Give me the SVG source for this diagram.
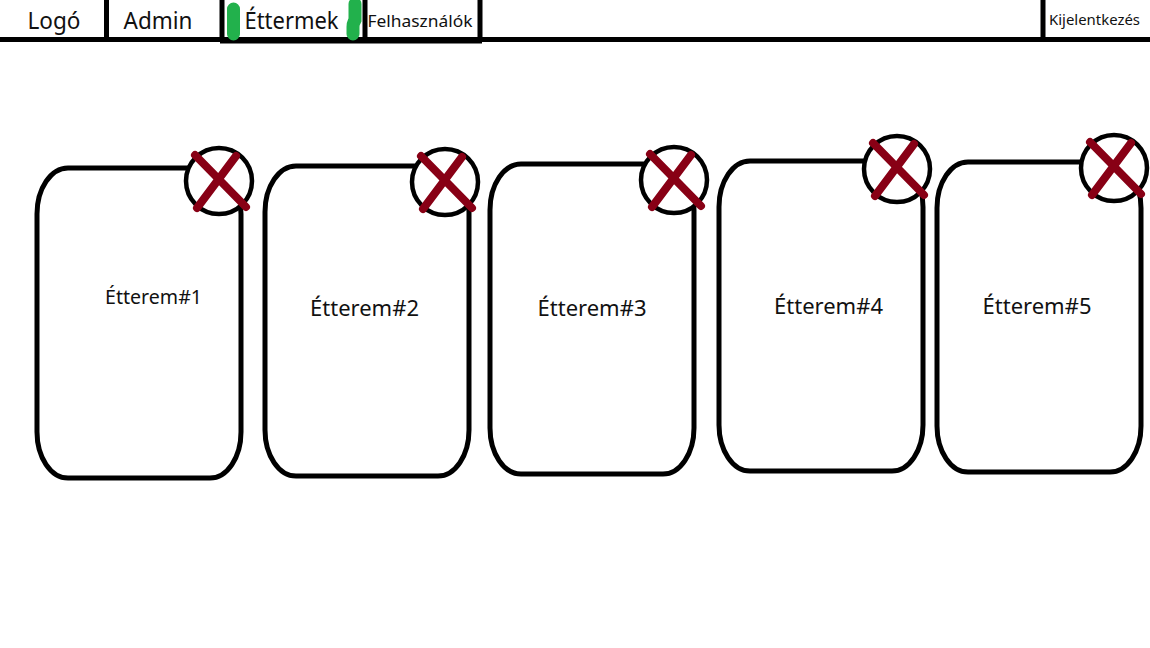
<svg xmlns="http://www.w3.org/2000/svg" width="1150" height="648" viewBox="0 0 1150 648">
<style>
text{font-family:"Noto Sans","Open Sans","Liberation Sans",sans-serif;fill:#111}
.l{stroke:#000;stroke-width:5;fill:none}
.card{fill:#fff;stroke:#000;stroke-width:5}
.c{fill:#fff;stroke:#000;stroke-width:4.5}
.x{stroke:#880015;stroke-width:8;stroke-linecap:round;fill:none}
.g{stroke:#22b14c;stroke-width:13;stroke-linecap:round;fill:none}
</style>
<defs>
<g id="cross"><path class="x" d="M-24-26L27 26M17-25L-22 27"/></g>
</defs>
<rect width="1150" height="648" fill="#fff"/>
<g id="connectors">
<path class="l" d="M0 39.500H1150M106.500 0V39M222 0V41M365 0V41M480 0V41M220 41H482M1043 0V39"/>
<path class="g" d="M233.500 9V34M355 4V20L354 22Q353 24 353 27V34"/>
</g>
<g id="nav-logo"><text x="54" y="29" font-size="23" text-anchor="middle" textLength="53" lengthAdjust="spacingAndGlyphs">Logó</text></g>
<g id="nav-admin"><text x="158" y="29" font-size="23" text-anchor="middle" textLength="69" lengthAdjust="spacingAndGlyphs">Admin</text></g>
<g id="nav-ettermek"><text x="291.500" y="29" font-size="23" text-anchor="middle" textLength="94" lengthAdjust="spacingAndGlyphs">Éttermek</text></g>
<g id="nav-felhasznalok"><text x="420" y="27" font-size="16.500" text-anchor="middle" textLength="105" lengthAdjust="spacingAndGlyphs">Felhasználók</text></g>
<g id="nav-kijelentkezes"><text x="1094.500" y="25" font-size="14.500" text-anchor="middle" textLength="91" lengthAdjust="spacingAndGlyphs">Kijelentkezés</text></g>
<g id="card1"><rect class="card" x="37" y="168" width="204" height="310" rx="31" ry="46"/><text x="153.500" y="304" font-size="20" text-anchor="middle" textLength="97" lengthAdjust="spacingAndGlyphs">Étterem#1</text><circle class="c" cx="219" cy="181" r="33"/><use href="#cross" x="219" y="181"/></g>
<g id="card2"><rect class="card" x="265" y="166" width="204" height="310" rx="31" ry="46"/><text x="364.500" y="316" font-size="22" text-anchor="middle" textLength="109" lengthAdjust="spacingAndGlyphs">Étterem#2</text><circle class="c" cx="445" cy="182" r="33"/><use href="#cross" x="445" y="182"/></g>
<g id="card3"><rect class="card" x="490" y="164" width="204" height="310" rx="31" ry="46"/><text x="592" y="316" font-size="22" text-anchor="middle" textLength="109" lengthAdjust="spacingAndGlyphs">Étterem#3</text><circle class="c" cx="674" cy="180" r="33"/><use href="#cross" x="674" y="180"/></g>
<g id="card4"><rect class="card" x="719" y="161" width="204" height="310" rx="31" ry="46"/><text x="828.500" y="314" font-size="22" text-anchor="middle" textLength="109" lengthAdjust="spacingAndGlyphs">Étterem#4</text><circle class="c" cx="897" cy="169" r="33"/><use href="#cross" x="897" y="169"/></g>
<g id="card5"><rect class="card" x="937" y="162" width="204" height="310" rx="31" ry="46"/><text x="1037" y="314" font-size="22" text-anchor="middle" textLength="109" lengthAdjust="spacingAndGlyphs">Étterem#5</text><circle class="c" cx="1114" cy="168" r="33"/><use href="#cross" x="1114" y="168"/></g>
</svg>
